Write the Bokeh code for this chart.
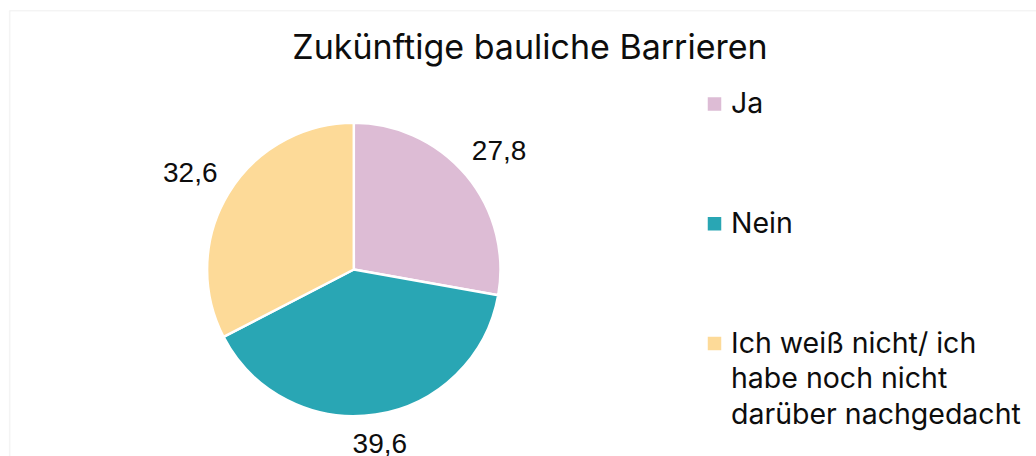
import math
from bokeh.plotting import figure
from bokeh.models import Range1d, BoxAnnotation, Label, ColumnDataSource
from bokeh.core.properties import value
from bokeh.embed import file_html
from bokeh.resources import INLINE

# ---- data ----
title = "Zukünftige bauliche Barrieren"
categories = ["Ja", "Nein", "Ich weiß nicht/ ich\nhabe noch nicht\ndarüber nachgedacht"]
values = [27.8, 39.6, 32.6]
value_labels = ["27,8", "39,6", "32,6"]
colors = ["#DDBCD5", "#29A6B4", "#FDDA98"]

# ---- layout ----
W, H = 1036, 456
TEXT_FONT = "Inter"
LABEL_FONT = "Liberation Sans"
TEXT_COLOR = "#0d0d0d"
TITLE_SIZE, LEG_SIZE, LBL_SIZE = 34.0, 28.5, 28.0
# empirical baseline correction (renderer places glyphs slightly low)
TITLE_FIX, LEG_FIX, LBL_FIX = 12.0, 10.0, 7.0

p = figure(width=W, height=H, x_range=Range1d(0, W), y_range=Range1d(0, H),
           x_axis_type=None, y_axis_type=None, output_backend="svg",
           toolbar_location=None, min_border=0)
p.grid.visible = False
p.outline_line_color = None
p.background_fill_color = "white"
p.border_fill_color = "white"

# chart-area border (clipped at right/bottom like the reference crop)
p.add_layout(BoxAnnotation(left=9.2, right=W + 50, bottom=-50, top=H - 10.2,
                           fill_alpha=0, line_color="#D9D9D9", line_width=1.6))

# title
p.add_layout(Label(x=529.5, y=H - 58 + TITLE_FIX, text=title, text_align="center",
                   text_baseline="alphabetic", text_font=TEXT_FONT,
                   text_font_size=f"{TITLE_SIZE}px", text_color=TEXT_COLOR))

# pie
cx, cy, r = 353.3, H - 269.0, 146.7
total = sum(values)
starts, ends, mids = [], [], []
a = math.pi / 2
for v in values:
    sweep = 2 * math.pi * v / total
    starts.append(a)
    ends.append(a - sweep)
    mids.append(a - sweep / 2)
    a -= sweep

src = ColumnDataSource(dict(start=starts, end=ends, color=colors, cat=categories))
p.wedge(x=cx, y=cy, radius=r, start_angle="start", end_angle="end",
        direction="clock", fill_color="color", line_color="white",
        line_width=2.5, source=src)

# data labels outside end
half_w, half_h, gap, cap_half = 30.0, 6.0, 16.0, 9.5
lx, ly = [], []
for m in mids:
    c, s = math.cos(m), math.sin(m)
    ext = abs(c) * half_w + abs(s) * half_h
    d = r + gap + ext
    lx.append(cx + d * c)
    ly.append(cy + d * s - cap_half + LBL_FIX)
p.text(x=lx, y=ly, text=value_labels, text_align="center",
       text_baseline="alphabetic", text_font=value(LABEL_FONT),
       text_font_size=f"{LBL_SIZE}px", text_color=TEXT_COLOR)

# legend (manual)
leg_x, leg_top, leg_step, sq = 714.0, H - 103.5, 119.75, 13.5
text_x, line_step, base_off = 730.5, 35.5, 8.7
sqx, sqy, tx, ty, tt = [], [], [], [], []
for i, cat in enumerate(categories):
    yc = leg_top - i * leg_step
    sqx.append(leg_x)
    sqy.append(yc)
    for j, line in enumerate(cat.split("\n")):
        tx.append(text_x)
        ty.append(yc - base_off - j * line_step + LEG_FIX)
        tt.append(line)
p.rect(x=sqx, y=sqy, width=sq, height=sq, fill_color=colors, line_color=None)
p.text(x=tx, y=ty, text=tt, text_align="left", text_baseline="alphabetic",
       text_font=value(TEXT_FONT), text_font_size=f"{LEG_SIZE}px", text_color=TEXT_COLOR)

open("out.html", "w").write(file_html(p, INLINE))
